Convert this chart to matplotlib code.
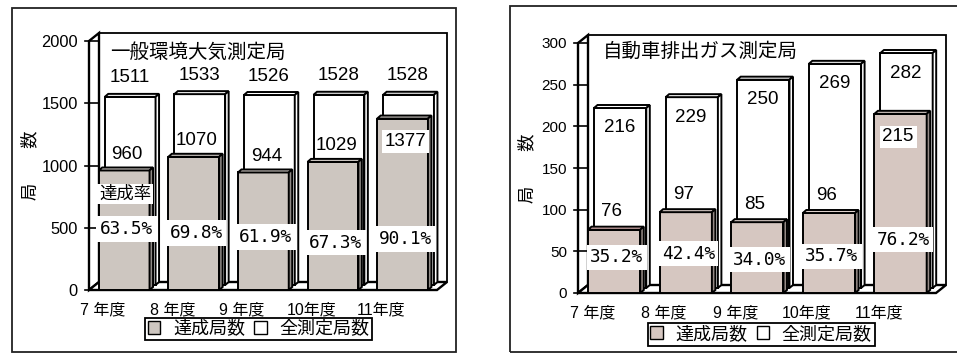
import numpy as np
import matplotlib.pyplot as plt
from matplotlib.patches import Polygon, Rectangle, Patch

plt.rcParams['font.family'] = ['Liberation Sans', 'Noto Sans CJK JP']

years = ['7 年度', '8 年度', '9 年度', '10年度', '11年度']

# 一般環境大気測定局
env_total = [1511, 1533, 1526, 1528, 1528]
env_met = [960, 1070, 944, 1029, 1377]

# 自動車排出ガス測定局
car_total = [216, 229, 250, 269, 282]
car_met = [76, 97, 85, 96, 215]

W, H = 957, 354
fig = plt.figure(figsize=(W / 100, H / 100), dpi=100)


def add_ax(x0, x1, ytop, ybot):
    return fig.add_axes([x0 / W, 1 - ybot / H, (x1 - x0) / W, (ybot - ytop) / H])


def poly(ax, pts, fc, z, lw=1.4):
    ax.add_patch(Polygon(pts, closed=True, fc=fc, ec='black', lw=lw,
                         zorder=z, clip_on=False, joinstyle='miter'))


def box(ax, x, w, y0, y1, dx, dy, face, top, side, z):
    poly(ax, [(x, y0), (x + w, y0), (x + w, y1), (x, y1)], face, z)
    poly(ax, [(x, y1), (x + dx, y1 + dy), (x + w + dx, y1 + dy), (x + w, y1)], top, z)
    poly(ax, [(x + w, y0), (x + w + dx, y0 + dy), (x + w + dx, y1 + dy), (x + w, y1)], side, z)


def panel(ax, total, met, ymax, ystep, title, color, side_color, top_colors,
          tick_fs, pct_y, tot_off, met_off, met_x, title_xy, legend_xy,
          show_rate_label=False):
    n = len(total)
    ax.set_xlim(0, n)
    ax.set_ylim(0, ymax)
    for s in ax.spines.values():
        s.set_visible(False)
    bb = ax.get_position()
    px_x = n / (bb.width * W)
    px_y = ymax / (bb.height * H)

    wx, wy = 10 * px_x, 8 * px_y
    # 奥の壁・左の壁・床
    poly(ax, [(wx, wy), (n + wx, wy), (n + wx, ymax + wy), (wx, ymax + wy)], 'white', 0, 1.3)
    poly(ax, [(0, 0), (0, ymax), (wx, ymax + wy), (wx, wy)], 'white', 0.5, 1.7)
    poly(ax, [(0, 0), (n, 0), (n + wx, wy), (wx, wy)], 'white', 0.5, 1.7)

    ticks = np.arange(0, ymax + 1, ystep)
    for t in ticks:
        ax.plot([-4 * px_x, wx], [t, t], color='black', lw=1.2, clip_on=False, zorder=1)
    ax.set_yticks(ticks)
    ax.set_xticks([])
    ax.tick_params(axis='y', length=0, pad=8, labelsize=tick_fs)

    bx, bw = 0.14, 0.73
    ox, oy = 6 * px_x, 5 * px_y
    ddx, ddy = 3.5 * px_x, 3 * px_y
    idx = np.arange(n)
    for i in idx:
        box(ax, i + bx + ox, bw, oy, total[i] + oy, ddx, ddy, 'white', 'white', 'white', 2)
    for i in idx:
        box(ax, i + bx, bw, 0, met[i], ddx, ddy, color, top_colors[i], side_color, 3)

    for i in idx:
        ax.annotate(str(total[i]), (i + 0.58, total[i]), xytext=(0, tot_off),
                    textcoords='offset pixels', ha='center', va='center',
                    fontsize=13.5, zorder=6)
        last = i == n - 1
        ax.annotate(str(met[i]), (i + met_x, met[i]),
                    xytext=(0, -23 if last else met_off),
                    textcoords='offset pixels', ha='center', va='center',
                    fontsize=13.5, zorder=6,
                    bbox=dict(fc='white', ec='none', pad=2) if last else None)
        rate = met[i] / total[i] * 100
        ax.text(i + 0.54, pct_y[i], f'{rate:.1f}%', ha='center', va='center',
                fontsize=12.8, family='DejaVu Sans Mono', zorder=6,
                bbox=dict(fc='white', ec='none', pad=2.5))
    if show_rate_label:
        ax.text(0.52, pct_y[0] + 35 * px_y, '達成率', ha='center', va='center',
                fontsize=12.5, zorder=6, bbox=dict(fc='white', ec='none', pad=1.5))

    for i in idx:
        ax.text(i + 0.5 - 0.3, -20 * px_y, years[i], ha='center', va='center',
                fontsize=11.5, clip_on=False)

    ax.text(title_xy[0], title_xy[1], title, transform=ax.transAxes,
            ha='left', va='center', fontsize=14, zorder=6)

    leg = ax.legend(handles=[Patch(fc=color, ec='black'), Patch(fc='white', ec='black')],
                    labels=['達成局数', '全測定局数'], ncol=2, loc='center',
                    fontsize=13, handlelength=0.7, handleheight=0.7,
                    handletextpad=0.7, columnspacing=0.5, borderpad=0.15,
                    fancybox=False, edgecolor='black', framealpha=1,
                    bbox_transform=fig.transFigure,
                    bbox_to_anchor=(legend_xy[0] / W, 1 - legend_xy[1] / H))
    leg.get_frame().set_linewidth(1.3)


# 外枠
fig.patches.append(Rectangle((12 / W, 1 - 352 / H), 444 / W, 344 / H, fill=False,
                             ec='#222222', lw=1.3, transform=fig.transFigure))
fig.patches.append(Rectangle((510 / W, 1 - 352 / H), 460 / W, 346 / H, fill=False,
                             ec='#222222', lw=1.3, transform=fig.transFigure))

ax1 = add_ax(89, 437, 41, 290)
panel(ax1, env_total, env_met, 2000, 500, '一般環境大気測定局',
      '#cdc6c0', '#8f8a86', ['#d9d3ce'] * 5, 11.8,
      [490, 458, 426, 378, 410], 24, 16, 0.55, (0.06, 0.952), (258.5, 329),
      show_rate_label=True)

ax2 = add_ax(578, 936, 43, 293)
panel(ax2, car_total, car_met, 300, 50, '自動車排出ガス測定局',
      '#d6c7c1', '#958a86', ['#f2c4c4', '#ddd0cb', '#ddd0cb', '#ddd0cb', '#ddd0cb'], 11,
      [43, 47, 40, 44, 64], -15, 18, 0.47, (0.07, 0.964), (761, 334.5))

fig.text(30 / W, 1 - 165.5 / H, '局　　数', rotation=90, ha='center', va='center', fontsize=12.5)
fig.text(527 / W, 1 - 168 / H, '局　　数', rotation=90, ha='center', va='center', fontsize=12.5)

fig.savefig('out.png', dpi=100)
